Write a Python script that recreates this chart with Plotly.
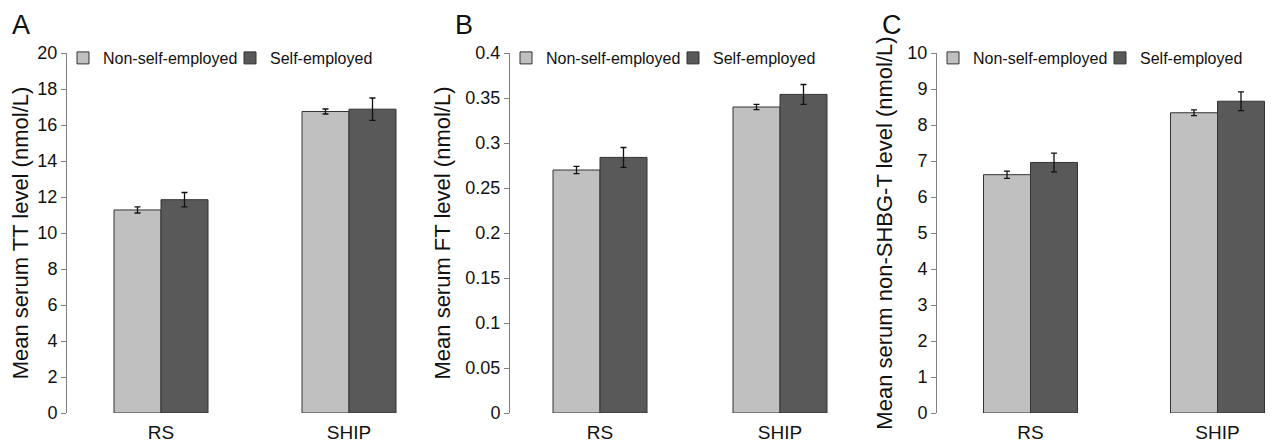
import plotly.graph_objects as go

categories = ["RS", "SHIP"]
groups = ["Non-self-employed", "Self-employed"]

# Panel A: total testosterone (nmol/L)
tt_non = [11.28, 16.75]
tt_non_err = [0.17, 0.14]
tt_self = [11.85, 16.88]
tt_self_err = [0.4, 0.62]

# Panel B: free testosterone (nmol/L)
ft_non = [0.270, 0.340]
ft_non_err = [0.004, 0.003]
ft_self = [0.284, 0.354]
ft_self_err = [0.011, 0.011]

# Panel C: non-SHBG testosterone (nmol/L)
ns_non = [6.62, 8.34]
ns_non_err = [0.1, 0.08]
ns_self = [6.96, 8.66]
ns_self_err = [0.26, 0.26]

y_titles = ["Mean serum TT level (nmol/L)",
            "Mean serum FT level (nmol/L)",
            "Mean serum non-SHBG-T level (nmol/L)"]
panel_letters = ["A", "B", "C"]
y_ranges = [[0, 20], [0, 0.4], [0, 10]]
y_dticks = [2, 0.05, 1]

# page body has an 8px margin; compensate
OFF = 8
W, H = 1273 - OFF, 445 - OFF
LIGHT = "#c0c0c0"
DARK = "#595959"
EDGE = "#333333"
FONT = "Liberation Sans, Arial, sans-serif"

# pixel layout of each panel in the target picture: (axis x, right x, category spacing px)
panels = [(67, 443, 188), (510, 870, 180), (937, 1273, 187)]
y_top_px, y_bot_px = 53 - OFF, 413 - OFF

data = [(tt_non, tt_non_err, tt_self, tt_self_err),
        (ft_non, ft_non_err, ft_self, ft_self_err),
        (ns_non, ns_non_err, ns_self, ns_self_err)]

fig = go.Figure()
layout = {}
annotations = []
for i, ((x0, x1, sp), (nv, ne, sv, se)) in enumerate(zip(panels, data)):
    x0 -= OFF
    x1 -= OFF
    n = "" if i == 0 else str(i + 1)
    xa, ya = "x" + n, "y" + n
    lg = "legend" + n
    bw = 47 / sp
    for vals, errs, color, name, off in [(nv, ne, LIGHT, groups[0], -bw),
                                          (sv, se, DARK, groups[1], 0)]:
        fig.add_trace(go.Bar(
            x=categories, y=vals, name=name, xaxis=xa, yaxis=ya,
            width=bw, offset=off, legend=lg,
            marker=dict(color=color, line=dict(color=EDGE, width=1)),
            error_y=dict(type="data", array=errs, color="#111111",
                         thickness=1.3, width=3),
        ))
    rng_span = (x1 - x0) / sp
    layout["xaxis" + n] = dict(
        domain=[x0 / W, min(x1 / W, 1)], anchor=ya,
        range=[-0.5, -0.5 + rng_span],
        showline=False, showgrid=False, ticks="", zeroline=False,
        tickfont=dict(size=19, color="#111111", family=FONT),
        ticklabelstandoff=6,
        automargin=False,
    )
    layout["yaxis" + n] = dict(
        domain=[(H - y_bot_px) / H, (H - y_top_px) / H], anchor=xa,
        range=y_ranges[i], dtick=y_dticks[i], tick0=0,
        showline=True, linecolor="#808080", linewidth=1,
        ticks="outside", ticklen=5, tickcolor="#808080",
        showgrid=False, zeroline=False,
        tickfont=dict(size=18, color="#111111", family=FONT),
        title=dict(text=y_titles[i], font=dict(size=22, color="#111111", family=FONT),
                   standoff=8),
        automargin=False,
    )
    layout[lg] = dict(
        orientation="h", x=(x0 + 36 - 40) / W, y=(H - (58 - OFF)) / H,
        xanchor="left", yanchor="middle", bgcolor="rgba(0,0,0,0)",
        font=dict(size=16, color="#111111", family=FONT),
        itemwidth=30, traceorder="normal",
        entrywidth=122, entrywidthmode="pixels",
    )
    annotations.append(dict(
        text=panel_letters[i], xref="paper", yref="paper",
        x=(x0 - 57) / W, y=(H - (25 - OFF)) / H, xanchor="left", yanchor="middle",
        showarrow=False, font=dict(size=27, color="#111111", family=FONT),
    ))

fig.update_layout(
    width=W, height=H, margin=dict(l=0, r=0, t=0, b=0),
    paper_bgcolor="white", plot_bgcolor="white",
    font=dict(family=FONT, color="#111111"),
    barmode="overlay", annotations=annotations, showlegend=True,
    **layout,
)

fig.write_html("out.html")
